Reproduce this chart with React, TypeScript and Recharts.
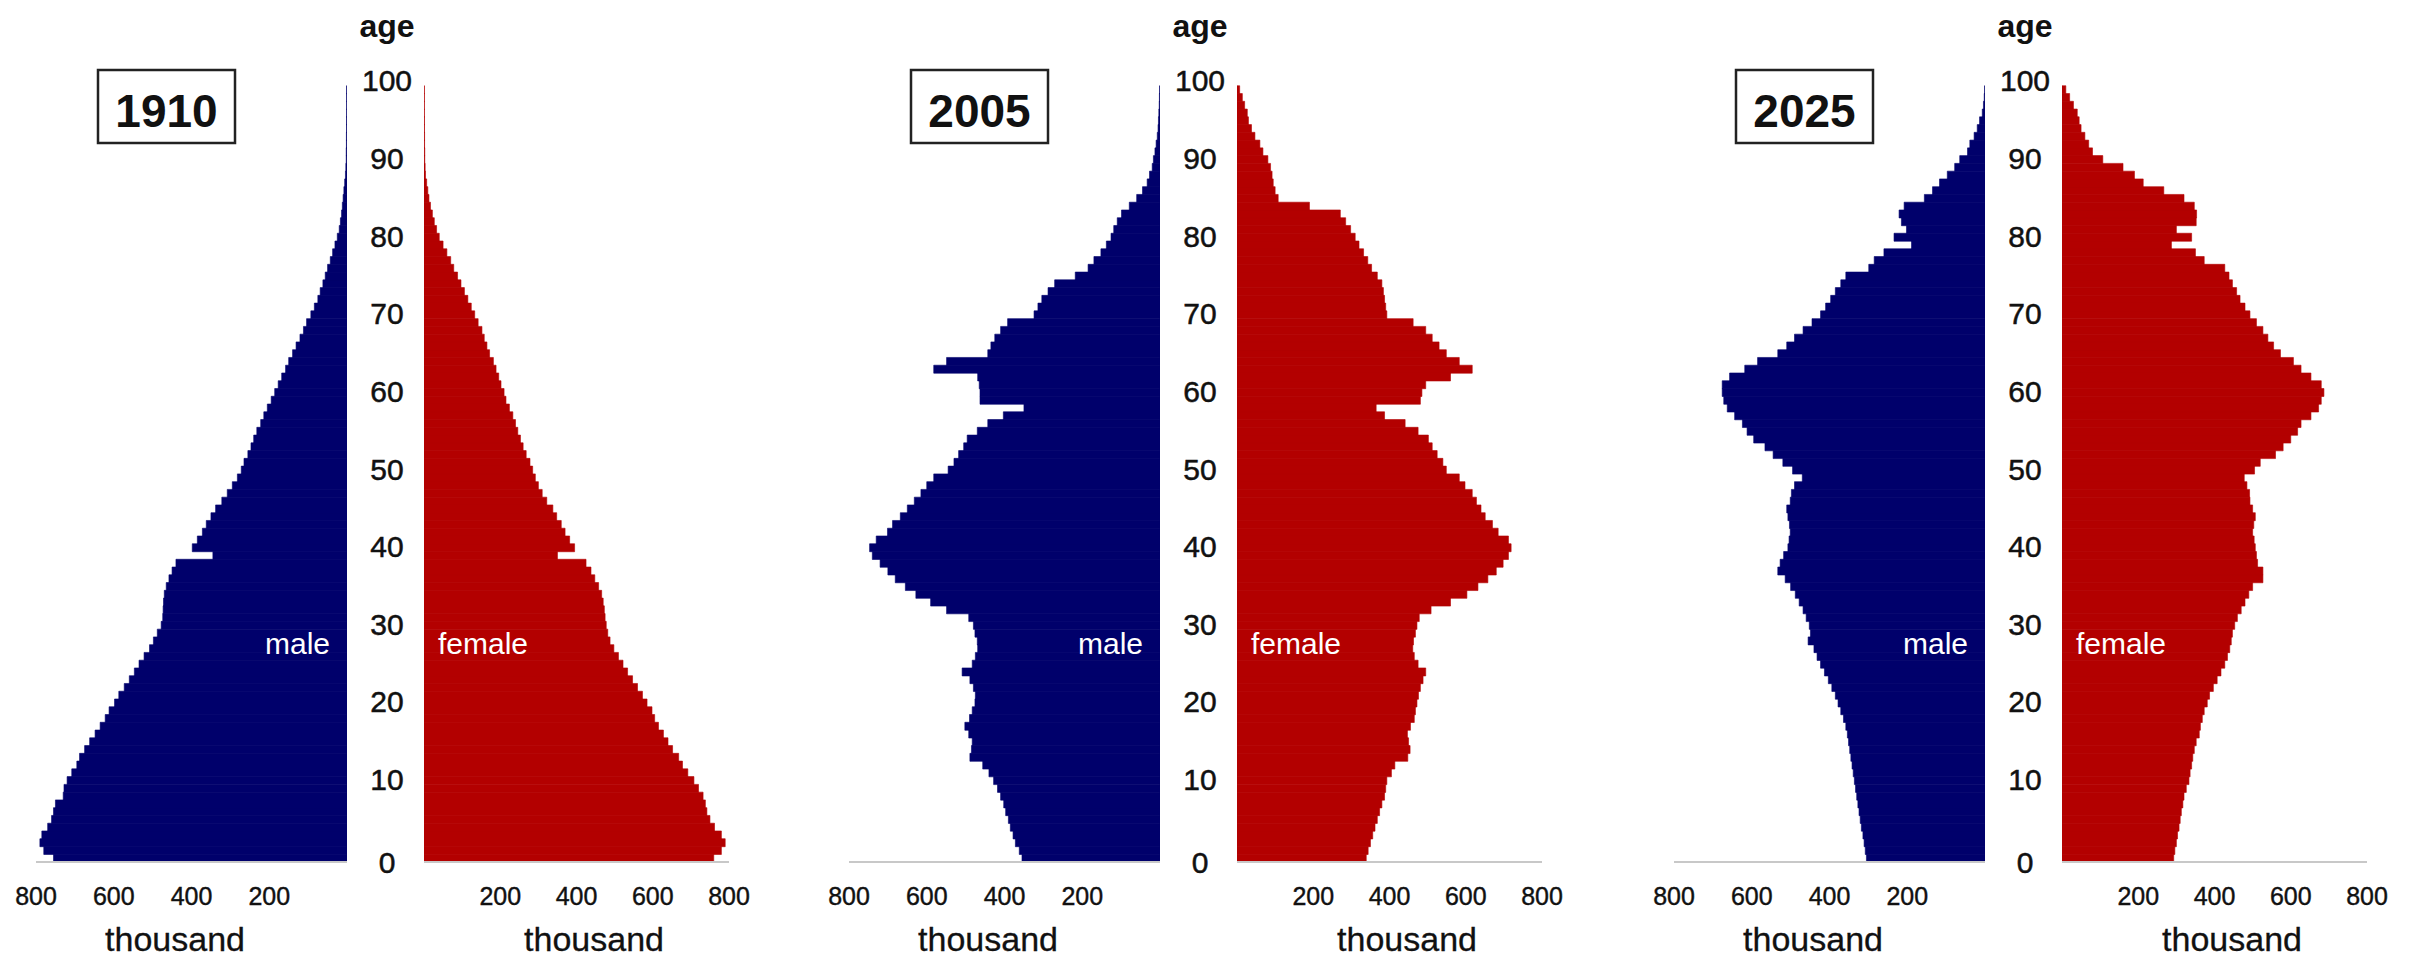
import React from 'react';
import { BarChart, Bar, XAxis, YAxis } from 'recharts';

// ---------- data ----------
const ages: number[] = Array.from({ length: 101 }, (_, i) => i);
const ageTicks = [0, 10, 20, 30, 40, 50, 60, 70, 80, 90, 100];
const valueTicks = [200, 400, 600, 800];
const years = ['1910', '2005', '2025'];

// population in thousand, index = age 0..100
const male1910 = [
  755, 780, 790, 785, 770, 760, 755, 750, 730, 728,
  720, 708, 695, 688, 675, 662, 648, 635, 622, 612,
  598, 587, 573, 560, 547, 535, 522, 508, 498, 488,
  478, 474, 473, 472, 470, 465, 458, 450, 440, 345,
  398, 385, 372, 362, 350, 338, 322, 308, 295, 282,
  272, 265, 255, 247, 240, 232, 222, 214, 205, 195,
  186, 177, 168, 158, 150, 140, 131, 121, 112, 104,
  93, 84, 75, 69, 62, 56, 50, 43, 37, 31,
  25, 20, 17, 14, 12, 10, 8, 6, 4, 3,
  2, 2, 1.5, 1.5, 1.2, 1.2, 1, 1, 1, 1,
  0,
];
const female1910 = [
  760, 780, 790, 780, 762, 750, 742, 738, 732, 720,
  708, 692, 678, 668, 652, 640, 628, 615, 605, 598,
  585, 573, 560, 547, 534, 522, 510, 498, 488, 482,
  478, 475, 473, 470, 466, 458, 448, 438, 425, 350,
  395, 382, 370, 360, 348, 338, 322, 310, 300, 292,
  285, 278, 268, 260, 253, 246, 240, 233, 224, 215,
  210, 202, 196, 189, 182, 172, 165, 158, 152, 142,
  133, 124, 115, 106, 97, 88, 78, 70, 60, 50,
  40, 33, 27, 22, 17, 13, 10, 7, 4, 3,
  2, 2, 1.5, 1.5, 1.2, 1.2, 1, 1, 1, 1,
  0,
];
const male2005 = [
  355, 362, 372, 378, 385, 390, 397, 402, 410, 418,
  428, 440, 456, 489, 485, 483, 492, 502, 490, 483,
  476, 475, 480, 489, 509, 483, 475, 469, 470, 476,
  480, 492, 549, 590, 628, 655, 681, 700, 720, 740,
  747, 730, 701, 688, 668, 650, 632, 615, 600, 582,
  545, 530, 518, 505, 496, 470, 443, 403, 350, 463,
  463, 465, 469, 582, 549, 443, 435, 425, 410, 392,
  324, 314, 304, 288, 271, 218, 185, 170, 152, 138,
  126, 119, 110, 99, 79, 60, 45, 33, 27, 20,
  17, 13, 10, 7, 5, 4, 3, 2, 1.5, 1,
  0,
];
const female2005 = [
  339, 344, 350, 356, 362, 368, 374, 380, 387, 390,
  393, 405, 414, 448, 454, 450, 447, 455, 465, 468,
  472, 476, 481, 488, 495, 475, 465, 461, 463, 468,
  472, 478, 509, 560, 603, 632, 658, 680, 698, 712,
  719, 712, 685, 670, 651, 640, 628, 617, 598, 583,
  549, 540, 525, 512, 502, 475, 441, 387, 365, 481,
  485, 495, 560, 617, 583, 549, 530, 512, 495, 462,
  393, 390, 387, 384, 380, 368, 353, 343, 332, 320,
  310, 298, 285, 271, 190, 108, 100, 95, 92, 88,
  81, 68, 60, 47, 38, 30, 27, 20, 14, 7,
  0,
];
const male2025 = [
  305, 308, 311, 314, 318, 321, 324, 327, 330, 333,
  336, 339, 342, 345, 348, 351, 354, 358, 364, 371,
  378, 385, 394, 403, 413, 423, 432, 440, 455, 449,
  452, 460, 468, 478, 488, 500, 514, 533, 527, 518,
  507, 504, 501, 503, 507, 510, 501, 498, 490, 470,
  495, 520, 545, 566, 595, 612, 624, 644, 663, 672,
  676, 676, 657, 618, 585, 533, 510, 490, 468, 445,
  423, 410, 397, 385, 371, 358, 299, 285, 260, 189,
  234, 202, 215, 221, 208, 156, 135, 117, 97, 78,
  65, 45, 39, 28, 20, 14, 7, 4, 2, 1,
  0,
];
const female2025 = [
  293, 296, 300, 303, 307, 310, 313, 317, 320, 326,
  333, 336, 340, 343, 347, 352, 360, 363, 368, 373,
  381, 387, 397, 407, 417, 427, 434, 440, 444, 447,
  453, 460, 470, 480, 490, 500, 527, 527, 513, 510,
  507, 504, 500, 503, 507, 500, 493, 492, 485, 478,
  505, 520, 560, 580, 600, 618, 627, 653, 673, 680,
  687, 680, 653, 627, 607, 573, 555, 540, 527, 510,
  493, 480, 467, 458, 447, 438, 427, 373, 350, 287,
  340, 300, 352, 353, 347, 320, 267, 213, 190, 160,
  107, 80, 70, 60, 50, 45, 40, 30, 20, 10,
  0,
];

// ---------- layout / style ----------
const W = 2413;
const H = 957;
const FONT = '"Liberation Sans", Arial, Helvetica, sans-serif';
const MALE_COLOR = '#00006b';
const FEMALE_COLOR = '#b30000';
const TEXT_COLOR = '#111111';
const AXIS_COLOR = '#c8c8c8';

const PLOT_TOP = 78;
const PLOT_BOTTOM = 862;
const X_AXIS_H = 60;
const MARGIN_BOTTOM = H - PLOT_BOTTOM - X_AXIS_H;
const MALE_W = 311;
const GAP = 77;
const FEMALE_W = 305;
const SIDE = 45;
const BAND = (PLOT_BOTTOM - PLOT_TOP) / ages.length;
const TICK_BASELINE = 905;
const TITLE_BASELINE = 951;

const panelZeroX = [347, 1160, 1985];
const panelSeries = [
  { male: male1910, female: female1910 },
  { male: male2005, female: female2005 },
  { male: male2025, female: female2025 },
];

const buildRows = (values: number[]) => ages.map((age, i) => ({ age, v: values[i] }));

const ValueTick = (props: any) => {
  const { x, payload } = props;
  return (
    <text
      x={x}
      y={TICK_BASELINE}
      textAnchor="middle"
      fontFamily={FONT}
      fontSize={25}
      fill={TEXT_COLOR}
      stroke={TEXT_COLOR}
      strokeWidth={0.4}
    >
      {payload.value}
    </text>
  );
};

const AgeTick = (props: any) => {
  const { y, payload } = props;
  const v = Number(payload.value);
  if (!ageTicks.includes(v)) return <g />;
  const center = y + BAND / 2 - (v === 0 ? 0 : 5);
  return (
    <text
      x={GAP / 2 + 1.5}
      y={center + 10.7}
      textAnchor="middle"
      fontFamily={FONT}
      fontSize={30}
      fill={TEXT_COLOR}
      stroke={TEXT_COLOR}
      strokeWidth={0.5}
    >
      {v}
    </text>
  );
};

const thousandLabel = (x: number) => () => (
  <text x={x} y={TITLE_BASELINE} textAnchor="middle" fontFamily={FONT} fontSize={34} fill={TEXT_COLOR} stroke={TEXT_COLOR} strokeWidth={0.3}>
    thousand
  </text>
);

const MaleChart = ({ zeroX, values }: { zeroX: number; values: number[] }) => (
  <div style={{ position: 'absolute', left: zeroX - MALE_W - SIDE, top: 0 }}>
    <BarChart
      width={SIDE + MALE_W}
      height={H}
      data={buildRows(values)}
      layout="vertical"
      margin={{ top: PLOT_TOP, right: 0, bottom: MARGIN_BOTTOM, left: SIDE }}
      barCategoryGap={0}
      barGap={0}
    >
      <XAxis
        type="number"
        domain={[0, 800]}
        reversed
        ticks={valueTicks}
        interval={0}
        allowDataOverflow
        tickLine={false}
        axisLine={{ stroke: AXIS_COLOR, strokeWidth: 2 }}
        height={X_AXIS_H}
        tick={(p: any) => <ValueTick {...p} />}
        label={thousandLabel(SIDE + MALE_W - 172)}
      />
      <YAxis type="category" dataKey="age" hide reversed />
      <Bar dataKey="v" fill={MALE_COLOR} stroke={MALE_COLOR} strokeWidth={0.6} isAnimationActive={false} />
    </BarChart>
  </div>
);

const FemaleChart = ({ zeroX, values }: { zeroX: number; values: number[] }) => (
  <div style={{ position: 'absolute', left: zeroX, top: 0 }}>
    <BarChart
      width={GAP + FEMALE_W + SIDE}
      height={H}
      data={buildRows(values)}
      layout="vertical"
      margin={{ top: PLOT_TOP, right: SIDE, bottom: MARGIN_BOTTOM, left: 0 }}
      barCategoryGap={0}
      barGap={0}
    >
      <XAxis
        type="number"
        domain={[0, 800]}
        ticks={valueTicks}
        interval={0}
        allowDataOverflow
        tickLine={false}
        axisLine={{ stroke: AXIS_COLOR, strokeWidth: 2 }}
        height={X_AXIS_H}
        tick={(p: any) => <ValueTick {...p} />}
        label={thousandLabel(GAP + 170)}
      />
      <YAxis
        type="category"
        dataKey="age"
        reversed
        width={GAP}
        interval={0}
        tickLine={false}
        axisLine={false}
        tick={(p: any) => <AgeTick {...p} />}
      />
      <Bar dataKey="v" fill={FEMALE_COLOR} stroke={FEMALE_COLOR} strokeWidth={0.6} isAnimationActive={false} />
    </BarChart>
  </div>
);

export default function App() {
  return (
    <div style={{ position: 'absolute', left: 0, top: 0, width: W, height: H, background: '#ffffff', overflow: 'hidden' }}>
      {panelZeroX.map((zx, i) => (
        <React.Fragment key={years[i]}>
          <MaleChart zeroX={zx} values={panelSeries[i].male} />
          <FemaleChart zeroX={zx} values={panelSeries[i].female} />
        </React.Fragment>
      ))}
      <svg width={W} height={H} style={{ position: 'absolute', left: 0, top: 0, pointerEvents: 'none' }}>
        {panelZeroX.map((zx, i) => (
          <g key={years[i]} fontFamily={FONT}>
            <rect x={zx - 249} y={70} width={137} height={73} fill="#ffffff" stroke="#222222" strokeWidth={2.5} />
            <text x={zx - 180.5} y={127} textAnchor="middle" fontSize={46} fontWeight="bold" fill="#111111">
              {years[i]}
            </text>
            <text x={zx + GAP / 2 + 1.5} y={37} textAnchor="middle" fontSize={32} fontWeight="bold" fill="#111111">
              age
            </text>
            <text x={zx - 17} y={654} textAnchor="end" fontSize={30} fill="#ffffff">
              male
            </text>
            <text x={zx + GAP + 14} y={654} textAnchor="start" fontSize={30} fill="#ffffff">
              female
            </text>
          </g>
        ))}
      </svg>
    </div>
  );
}
